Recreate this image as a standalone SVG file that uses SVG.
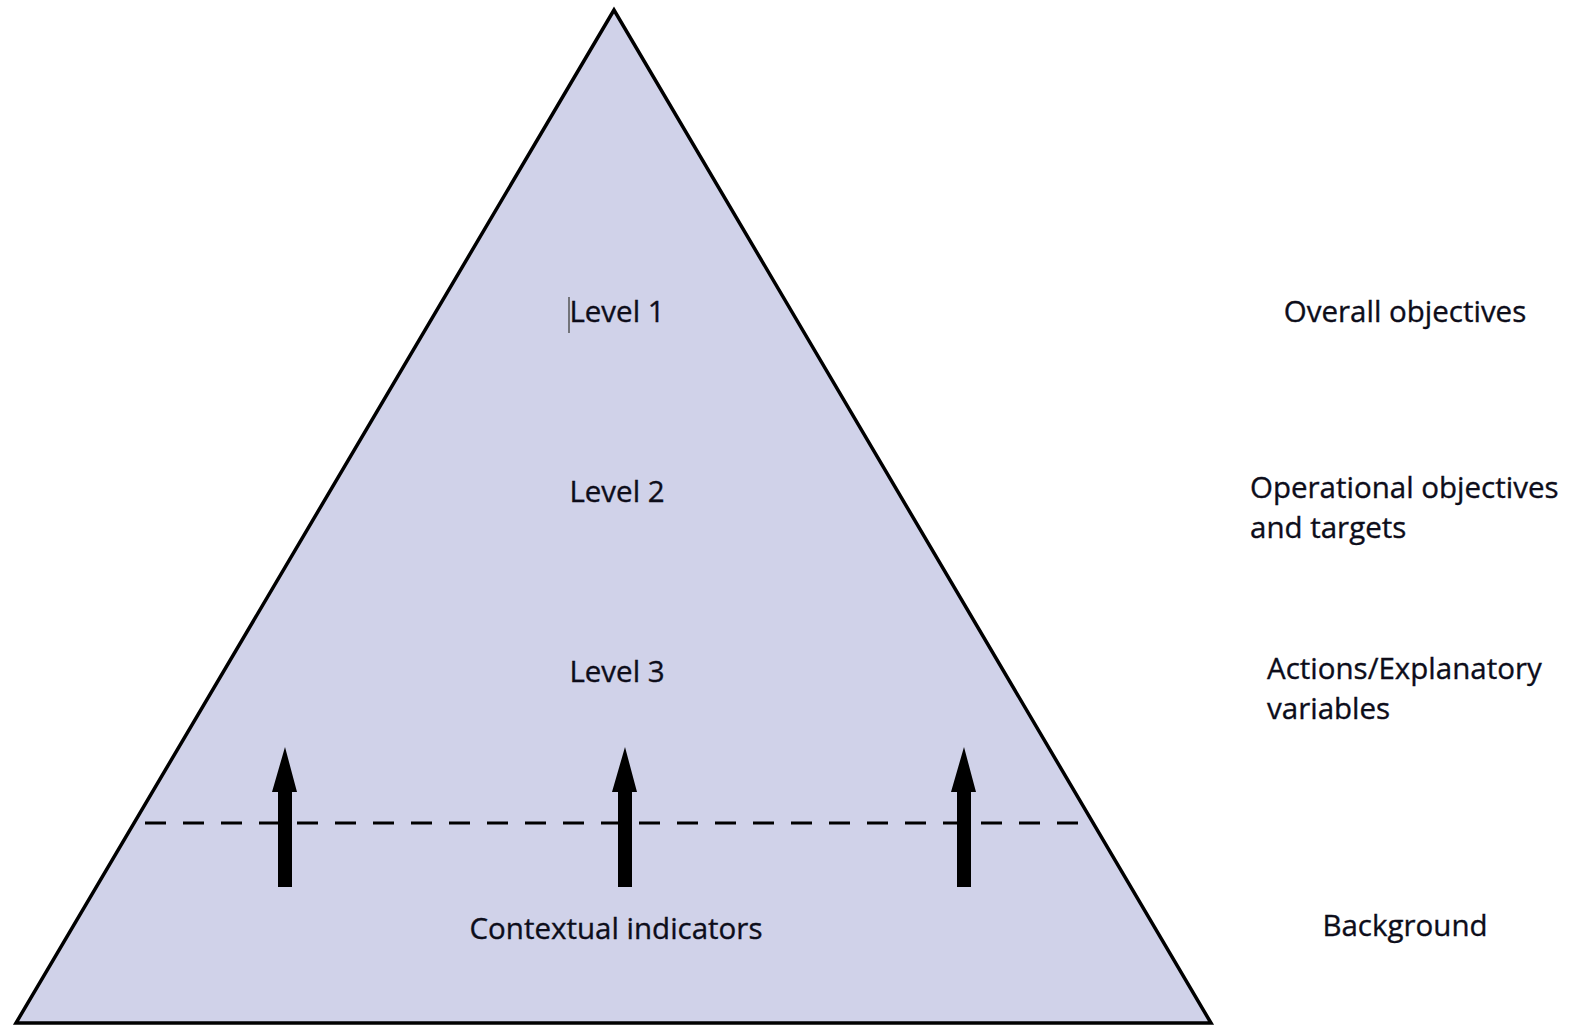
<svg xmlns="http://www.w3.org/2000/svg" width="1576" height="1027" viewBox="0 0 1576 1027">
<style>
  .lbl { font-family: "Open Sans", "Noto Sans", "Liberation Sans", sans-serif; font-size: 29.5px; fill: #0d0d1a; stroke: #0d0d1a; stroke-width: 0.35px; }
  .mid { text-anchor: middle; }
  .arrow { fill: #000; }
</style>
<rect width="1576" height="1027" fill="#ffffff"/>
<g id="pyramid">
  <polygon points="614,10 16,1023 1211,1023" fill="#d0d2e9" stroke="#000" stroke-width="3.5" stroke-linejoin="miter"/>
</g>
<g id="divider">
  <line x1="145" y1="823" x2="1088" y2="823" stroke="#000" stroke-width="3" stroke-dasharray="21 17"/>
</g>
<g id="cursor">
  <line x1="569" y1="297" x2="569" y2="333" stroke="#555" stroke-width="1.5"/>
</g>
<g id="level1"><text class="lbl mid" x="617" y="322">Level 1</text></g>
<g id="level2"><text class="lbl mid" x="617" y="502">Level 2</text></g>
<g id="level3"><text class="lbl mid" x="617" y="682">Level 3</text></g>
<g id="contextual"><text class="lbl mid" x="616" y="939">Contextual indicators</text></g>
<g id="overall"><text class="lbl mid" x="1405" y="322">Overall objectives</text></g>
<g id="operational"><text class="lbl" x="1250" y="498">Operational objectives</text><text class="lbl" x="1250" y="538">and targets</text></g>
<g id="actions"><text class="lbl" x="1267" y="679">Actions/Explanatory</text><text class="lbl" x="1267" y="719">variables</text></g>
<g id="background"><text class="lbl mid" x="1405" y="936">Background</text></g>
<g id="connectors">
  <polygon class="arrow" points="278,887 292,887 292,792 297,792 285,747 272,792 278,792"/>
  <polygon class="arrow" points="618,887 632,887 632,792 637,792 625,747 612,792 618,792"/>
  <polygon class="arrow" points="957,887 971,887 971,792 976,792 964,747 951,792 957,792"/>
</g>
</svg>
